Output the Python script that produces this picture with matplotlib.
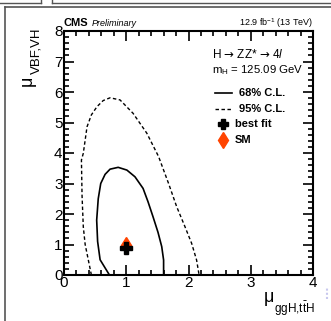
import matplotlib
matplotlib.use("Agg")
import matplotlib.pyplot as plt
from matplotlib.ticker import MultipleLocator
from matplotlib.lines import Line2D

plt.rcParams['font.family'] = ['Liberation Sans', 'DejaVu Sans']
plt.rcParams['mathtext.fontset'] = 'custom'
plt.rcParams['mathtext.rm'] = 'Liberation Sans'
plt.rcParams['mathtext.it'] = 'Liberation Sans:italic'
plt.rcParams['mathtext.sf'] = 'DejaVu Sans'

# 68% CL contour (mu_ggH, mu_VBF)
cl68_x = [0.73, 0.58, 0.54, 0.525, 0.55, 0.59, 0.66, 0.74, 0.87, 1.01, 1.14, 1.27, 1.35, 1.43, 1.51, 1.57, 1.60, 1.60]
cl68_y = [0.0, 0.5, 1.1, 1.8, 2.5, 3.0, 3.3, 3.47, 3.53, 3.44, 3.22, 2.84, 2.4, 1.91, 1.4, 0.93, 0.49, 0.0]
# 95% CL contour
cl95_x = [0.44, 0.39, 0.34, 0.31, 0.29, 0.28, 0.31, 0.37, 0.44, 0.53, 0.63, 0.74, 0.90, 1.11, 1.33, 1.52, 1.54, 1.68, 1.81, 1.94, 2.05, 2.13, 2.17]
cl95_y = [0.0, 0.5, 1.0, 1.58, 2.6, 3.77, 3.99, 4.86, 5.25, 5.52, 5.72, 5.81, 5.74, 5.30, 4.65, 3.88, 3.77, 3.0, 2.24, 1.6, 1.04, 0.49, 0.0]
best_fit = (1.0, 0.9)
sm_point = (1.0, 1.0)

dash = (0, (2.5, 1.8))

fig = plt.figure(figsize=(3.31, 3.21), dpi=100)
ax = fig.add_axes([64/331, 1-275/321, 249/331, 244/321])

ax.plot(cl95_x, cl95_y, color='black', lw=1.0, ls=dash)
ax.plot(cl68_x, cl68_y, color='black', lw=1.2)
ax.plot(*sm_point, marker='d', color='#ff4400', ms=8, mec='#ff4400', ls='none')
ax.plot(*best_fit, marker='P', color='black', ms=8, ls='none')

ax.set_xlim(0, 4)
ax.set_ylim(0, 8)
ax.xaxis.set_major_locator(MultipleLocator(1))
ax.xaxis.set_minor_locator(MultipleLocator(0.2))
ax.yaxis.set_major_locator(MultipleLocator(1))
ax.yaxis.set_minor_locator(MultipleLocator(0.2))
ax.tick_params(which='both', direction='in', top=True, right=True, labelsize=11, width=1.2)
ax.tick_params(which='major', length=7, pad=1)
ax.tick_params(which='minor', length=3.5)
for s in ax.spines.values():
    s.set_linewidth(1.5)

# axis titles, ROOT style
fig.text(269/331, 1-297/321, 'μ', ha='center', va='center', fontsize=13)
fig.text(315/331, 1-309/321, r'ggH,t$\bar{\mathregular{t}}$H', ha='right', va='center', fontsize=8.5)
fig.text(27/331, 1-81/321, 'μ', ha='center', va='center', fontsize=13, rotation=90)
fig.text(36/331, 1-28/321, 'VBF,VH', ha='center', va='top', fontsize=9.5, rotation=90)

fig.text(64/331, 1-23/321, 'CMS', fontsize=8, fontweight='bold', va='center')
fig.text(92/331, 1-23/321, 'Preliminary', fontsize=6.5, style='italic', va='center')
fig.text(313/331, 1-23/321, r'12.9 fb$^{-1}$ (13 TeV)', fontsize=6.5, ha='right', va='center')

fig.text(212/331, 1-55/321, r'H $\mathsf{→}$ ZZ* $\mathsf{→}$ 4$\mathit{l}$', fontsize=8.5, va='center')
fig.text(212/331, 1-70/321, r'm$_{\mathregular{H}}$ = 125.09 GeV', fontsize=8.2, va='center')

leg_x = 239/331
fig.add_artist(Line2D([215/331, 232/331], [1-93/321]*2, color='black', lw=1.2))
fig.text(leg_x, 1-93/321, '68% C.L.', fontsize=8, fontweight='bold', va='center')
fig.add_artist(Line2D([215/331, 232/331], [1-109/321]*2, color='black', lw=1.0, ls=dash))
fig.text(leg_x, 1-109/321, '95% C.L.', fontsize=8, fontweight='bold', va='center')
fig.add_artist(Line2D([223/331], [1-124/321], marker='P', color='black', ms=7, ls='none'))
fig.text(235/331, 1-124/321, 'best fit', fontsize=8, fontweight='bold', va='center')
fig.add_artist(Line2D([223/331], [1-140/321], marker='d', color='#ff4400', ms=8, ls='none'))
fig.text(235/331, 1-140/321, 'SM', fontsize=8, fontweight='bold', va='center')

# page frame remnants
g = '#555555'
fig.add_artist(Line2D([5/331, 5/331], [0, 1-7/321], color=g, lw=1.2))
fig.add_artist(Line2D([5/331, 1], [1-7/321, 1-7/321], color=g, lw=1.2))
fig.add_artist(Line2D([0, 41/331], [1-3/321, 1-3/321], color=g, lw=1.0))
fig.add_artist(Line2D([52/331, 1], [1-3/321, 1-3/321], color=g, lw=1.0))
fig.add_artist(Line2D([41/331, 41/331], [1-3/321, 1], color=g, lw=1.0))
fig.add_artist(Line2D([52/331, 52/331], [1-3/321, 1], color=g, lw=1.0))
fig.add_artist(Line2D([327/331, 327/331], [1-299/321, 1-287/321], color='#c8c8ee', lw=1.5, ls=(0, (1, 1))))

fig.savefig('out.png', dpi=100)
